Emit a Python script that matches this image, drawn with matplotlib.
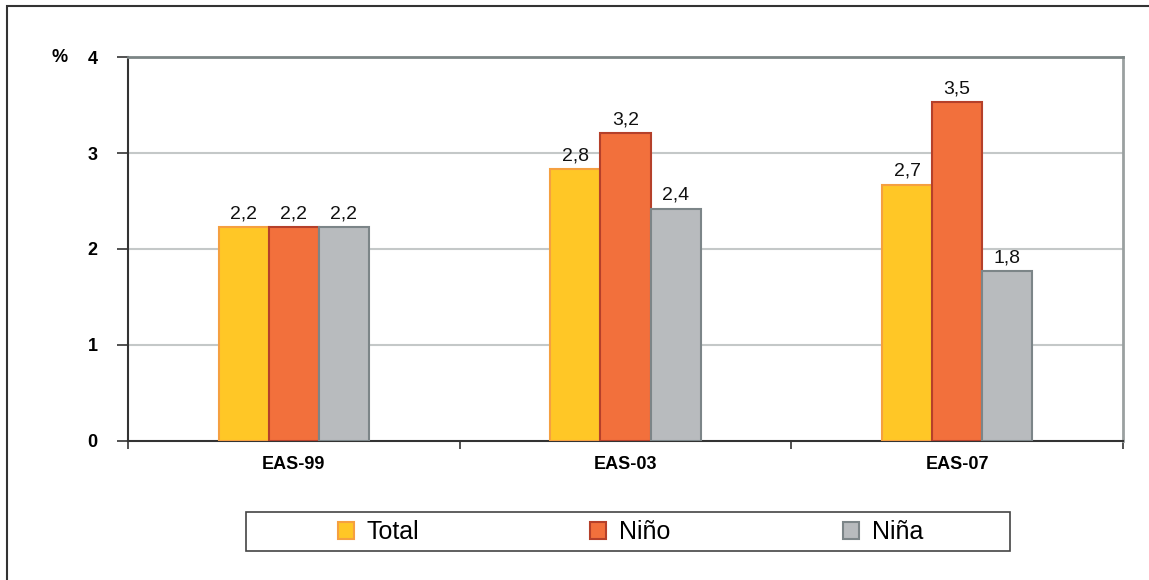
import matplotlib.pyplot as plt
from matplotlib.patches import Rectangle
import numpy as np

plt.rcParams['font.family'] = ['Liberation Sans Narrow', 'Liberation Sans', 'DejaVu Sans']

categories = ["EAS-99", "EAS-03", "EAS-07"]
series = ["Total", "Niño", "Niña"]
total = [2.23, 2.83, 2.67]
nino = [2.23, 3.21, 3.53]
nina = [2.23, 2.42, 1.77]
labels_total = ["2,2", "2,8", "2,7"]
labels_nino = ["2,2", "3,2", "3,5"]
labels_nina = ["2,2", "2,4", "1,8"]

fills = ["#FFC726", "#F2703C", "#B8BBBE"]
edges = ["#F5A040", "#B5402A", "#7C8588"]

fig = plt.figure(figsize=(11.49, 5.80), dpi=100)
ax = fig.add_axes([0.1114, 0.2397, 0.8660, 0.6620])

x = np.arange(len(categories))
w = 0.151
data = [total, nino, nina]
labs = [labels_total, labels_nino, labels_nina]
bars = []
for k, (vals, lab) in enumerate(zip(data, labs)):
    pos = x + (k - 1) * w
    b = ax.bar(pos, vals, width=w, color=fills[k], edgecolor=edges[k], linewidth=1.5,
               label=series[k], zorder=3)
    bars.append(b)
    for p, v, t in zip(pos, vals, lab):
        ax.text(p, v + 0.05, t, ha='center', va='bottom', fontsize=14, color='#111111')

ax.set_xlim(-0.5, 2.5)
ax.set_ylim(0, 4)
ax.set_yticks([0, 1, 2, 3, 4])
ax.set_yticklabels(['0', '1', '2', '3', '4'], fontsize=13, fontweight='bold')
ax.set_xticks(x)
ax.set_xticklabels(categories, fontsize=13, fontweight='bold')
ax.tick_params(axis='x', which='major', length=0, pad=11)
ax.set_xticks([-0.5, 0.5, 1.5, 2.5], minor=True)
ax.tick_params(axis='x', which='minor', length=6, width=1.2, color='#333333')
ax.tick_params(axis='y', length=8, width=1.2, color='#333333', pad=14)

for yv in [1, 2, 3]:
    ax.axhline(yv, color='#C4C8C8', linewidth=1.5, zorder=1)
ax.spines['top'].set_color('#7C8585')
ax.spines['top'].set_linewidth(2)
ax.spines['right'].set_color('#9AA0A0')
ax.spines['right'].set_linewidth(2)
ax.spines['left'].set_color('#333333')
ax.spines['left'].set_linewidth(1.5)
ax.spines['bottom'].set_color('#333333')
ax.spines['bottom'].set_linewidth(1.5)

fig.text(0.0522, 0.9017, '%', fontsize=13, fontweight='bold', ha='center', va='center')

# outer frame
fig.patches.append(Rectangle((7 / 1149, -0.1), 1.2, 1.1 - 6 / 580,
                             transform=fig.transFigure, fill=False,
                             edgecolor='#333333', linewidth=1.5))

# legend box
fig.patches.append(Rectangle((246 / 1149, 1 - 551 / 580), 764 / 1149, 39 / 580,
                             transform=fig.transFigure, fill=False,
                             edgecolor='#444444', linewidth=1.2))
handle_x = [338, 590, 843]
for k in range(3):
    fig.legend([bars[k]], [series[k]], loc='center left',
               bbox_to_anchor=(handle_x[k] / 1149, 1 - 532 / 580),
               frameon=False, fontsize=18, handlelength=0.65, handleheight=0.65,
               handletextpad=0.5, borderpad=0, borderaxespad=0)

fig.savefig('out.png', dpi=100)
